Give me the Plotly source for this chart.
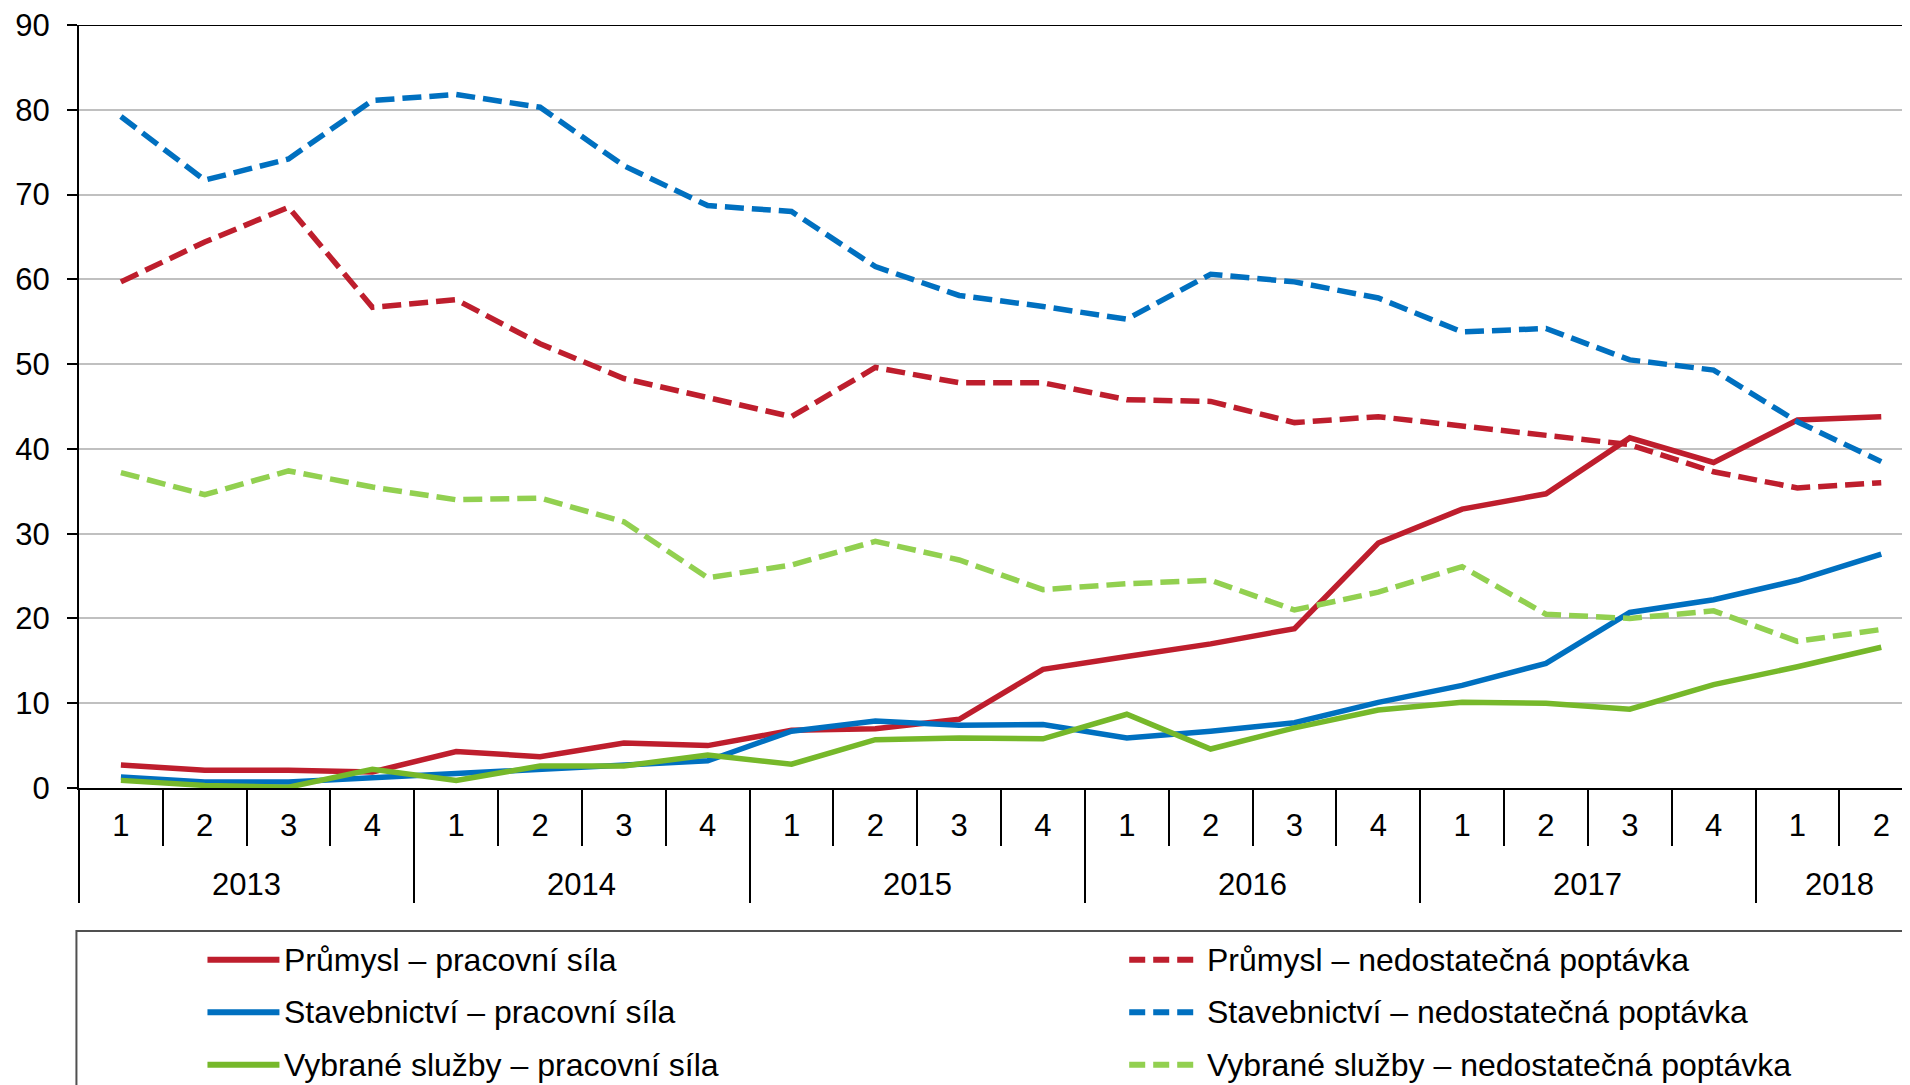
import plotly.graph_objects as go

# ---------------- data ----------------
quarter_labels = ["1", "2", "3", "4", "1", "2", "3", "4", "1", "2", "3", "4",
                  "1", "2", "3", "4", "1", "2", "3", "4", "1", "2"]
years = ["2013", "2014", "2015", "2016", "2017", "2018"]
quarters_per_year = [4, 4, 4, 4, 4, 2]

prumysl_prac = [2.7, 2.1, 2.1, 1.9, 4.3, 3.7, 5.3, 5.0, 6.8, 7.0, 8.1, 14.0,
                15.5, 17.0, 18.8, 28.9, 32.9, 34.7, 41.3, 38.4, 43.4, 43.8]
prumysl_nedost = [59.7, 64.4, 68.5, 56.7, 57.6, 52.4, 48.3, 46.0, 43.8, 49.6, 47.8, 47.8,
                  45.8, 45.6, 43.1, 43.8, 42.7, 41.7, 40.5, 37.3, 35.4, 36.0]
stav_prac = [1.3, 0.7, 0.7, 1.2, 1.7, 2.2, 2.8, 3.2, 6.7, 7.9, 7.4, 7.5,
             5.9, 6.7, 7.7, 10.1, 12.1, 14.7, 20.7, 22.2, 24.5, 27.6]
stav_nedost = [79.2, 71.7, 74.2, 81.1, 81.8, 80.3, 73.4, 68.7, 68.0, 61.5, 58.1, 56.8,
               55.3, 60.6, 59.7, 57.8, 53.8, 54.2, 50.5, 49.3, 43.2, 38.5]
sluzby_prac = [0.9, 0.3, 0.1, 2.2, 0.9, 2.6, 2.6, 3.9, 2.8, 5.7, 5.9, 5.8,
               8.7, 4.6, 7.1, 9.2, 10.1, 10.0, 9.3, 12.2, 14.3, 16.6]
sluzby_nedost = [37.2, 34.6, 37.4, 35.5, 34.0, 34.2, 31.4, 24.8, 26.3, 29.1, 26.9, 23.4,
                 24.1, 24.5, 21.0, 23.1, 26.1, 20.5, 20.0, 20.9, 17.3, 18.7]

series_names = ["Průmysl – pracovní síla", "Průmysl – nedostatečná poptávka",
                "Stavebnictví – pracovní síla", "Stavebnictví – nedostatečná poptávka",
                "Vybrané služby – pracovní síla", "Vybrané služby – nedostatečná poptávka"]
series_values = [prumysl_prac, prumysl_nedost, stav_prac, stav_nedost, sluzby_prac, sluzby_nedost]

RED = "#BE1E2D"
BLUE = "#0070C0"
GREEN = "#76B82A"
LGREEN = "#92D050"
series_colors = [RED, RED, BLUE, BLUE, GREEN, LGREEN]
series_dashed = [False, True, False, True, False, True]

FONT = "Liberation Sans, Arial, sans-serif"
TICK_SIZE = 31
LEG_SIZE = 32

x_idx = list(range(len(quarter_labels)))

fig = go.Figure()
for name, vals, col, dashed in zip(series_names, series_values, series_colors, series_dashed):
    fig.add_trace(go.Scatter(
        x=x_idx, y=vals, mode="lines", name=name, showlegend=False,
        line=dict(color=col, width=5.5, dash="19px,8px" if dashed else "solid"),
        hoverinfo="skip",
    ))

# dummy traces to anchor the separator axes
fig.add_trace(go.Scatter(x=[], y=[], xaxis="x2", showlegend=False))
fig.add_trace(go.Scatter(x=[], y=[], xaxis="x3", showlegend=False))

# boundaries
year_starts = []
acc = 0
for n in quarters_per_year:
    year_starts.append(acc)
    acc += n
year_bounds = [s - 0.5 for s in year_starts]
quarter_bounds = [i - 0.5 for i in x_idx if (i - 0.5) not in year_bounds]
year_centers = [s + (n - 1) / 2 for s, n in zip(year_starts, quarters_per_year)]

XR = [-0.5, 21.343]

# the page body has an 8px margin, so the figure is 8px smaller than the window
fig.update_layout(
    width=1902, height=1077,
    margin=dict(l=70.5, r=0, t=16.5, b=296.5, pad=0, autoexpand=False),
    paper_bgcolor="white", plot_bgcolor="white",
    font=dict(family=FONT, color="black", size=TICK_SIZE),
    showlegend=False,
    xaxis=dict(range=XR, tickmode="array", tickvals=x_idx, ticktext=quarter_labels,
               ticks="", showgrid=False, zeroline=False, showline=True,
               linecolor="black", linewidth=2, tickfont=dict(size=TICK_SIZE),
               ticklabelstandoff=9, automargin=False),
    xaxis2=dict(range=XR, overlaying="x", anchor="y", side="bottom",
                tickmode="array", tickvals=quarter_bounds, ticks="outside",
                ticklen=57, tickwidth=2, tickcolor="black", showticklabels=False,
                showgrid=False, zeroline=False, showline=False, automargin=False),
    xaxis3=dict(range=XR, overlaying="x", anchor="y", side="bottom",
                tickmode="array", tickvals=year_bounds, ticks="outside",
                ticklen=114, tickwidth=2, tickcolor="black", showticklabels=False,
                showgrid=False, zeroline=False, showline=False, automargin=False),
    yaxis=dict(range=[0, 90], tickmode="linear", tick0=0, dtick=10,
               ticks="outside", ticklen=10, tickwidth=2, tickcolor="black",
               showline=True, linecolor="black", linewidth=2,
               showgrid=True, gridcolor="#C0C0C0", gridwidth=2, zeroline=False,
               tickfont=dict(size=TICK_SIZE), ticklabelstandoff=11,
               ticklabeloverflow="allow", automargin=False),
)

# black top border at 90
fig.add_shape(type="line", xref="paper", yref="y", x0=0, x1=1, y0=90, y1=90,
              line=dict(color="black", width=2))

# year labels
for yr, xc in zip(years, year_centers):
    fig.add_annotation(x=xc, y=-0.1262, xref="x", yref="paper", text=yr,
                       showarrow=False, xanchor="center", yanchor="middle",
                       font=dict(size=TICK_SIZE, family=FONT, color="black"))

# legend box
fig.add_shape(type="rect", xref="paper", yref="paper", x0=-0.0014, x1=1.02,
              y0=-0.1874, y1=-0.45, line=dict(color="#505050", width=2),
              fillcolor="rgba(0,0,0,0)")

# legend entries (manual, two columns); positions given in window pixels
def px2x(px):
    return (px - 78.5) / 1831.5

def py2y(py):
    return (788.5 - py) / 764.0

rows_py = [960.5, 1013, 1065.5]
col_defs = [(207, 279, 282), (1129, 1194, 1205)]
for k, (name, col, dashed) in enumerate(zip(series_names, series_colors, series_dashed)):
    row = k // 2
    c = k % 2
    x0, x1, xt = col_defs[c]
    yy = py2y(rows_py[row])
    fig.add_shape(type="line", xref="paper", yref="paper",
                  x0=px2x(x0), x1=px2x(x1), y0=yy, y1=yy,
                  line=dict(color=col, width=6, dash="16px,8px" if dashed else "solid"))
    fig.add_annotation(x=px2x(xt), y=yy, xref="paper", yref="paper", text=name,
                       showarrow=False, xanchor="left", yanchor="middle",
                       font=dict(size=LEG_SIZE, family=FONT, color="black"))

fig.write_html("out.html")
